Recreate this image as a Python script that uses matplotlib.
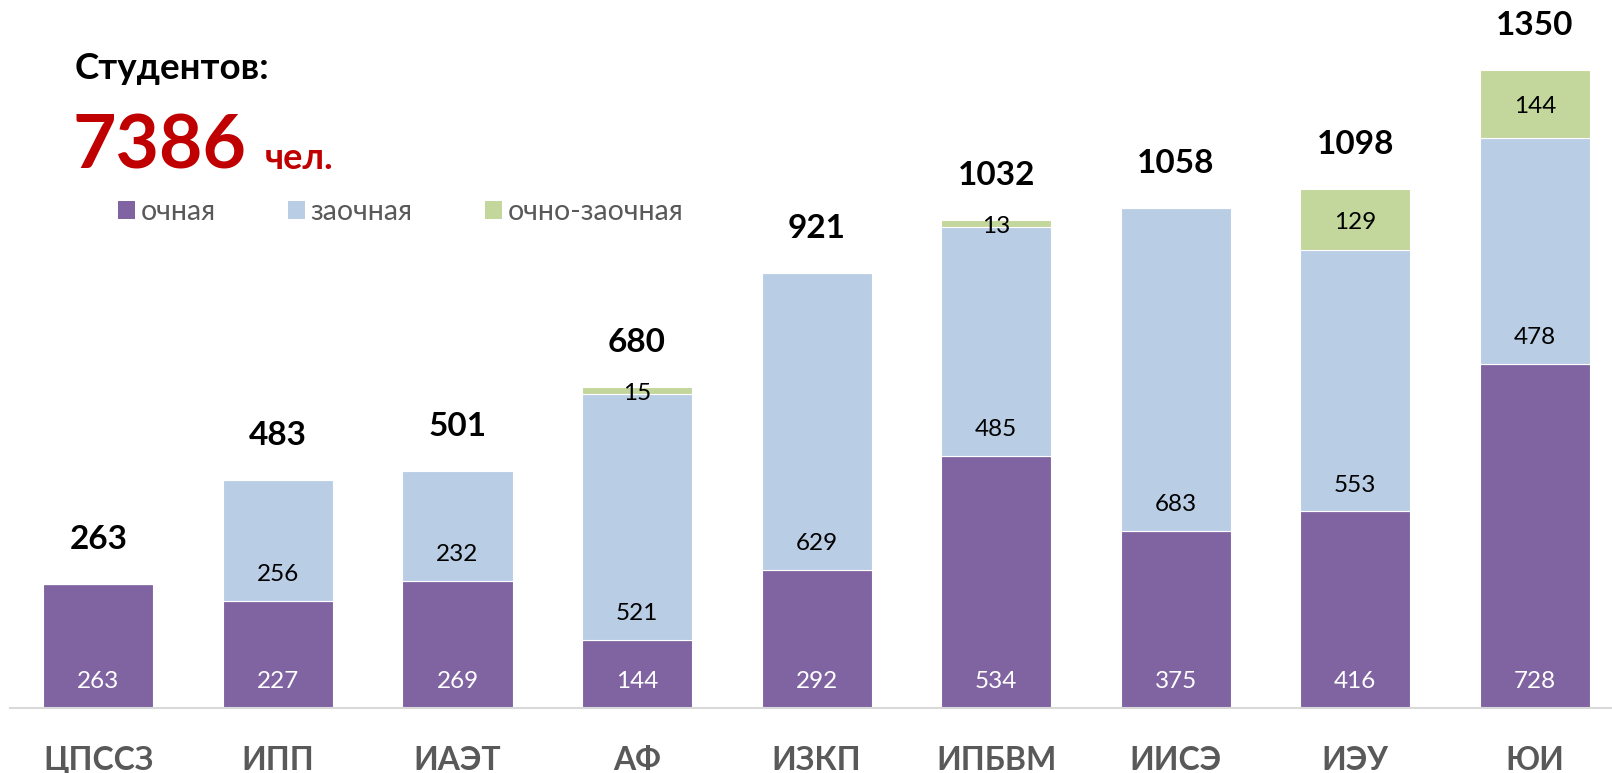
import numpy as np
import matplotlib.pyplot as plt
from matplotlib.patches import Patch

plt.rcParams['font.family'] = ['Lato', 'DejaVu Sans']

# Данные
categories = ['ЦПССЗ', 'ИПП', 'ИАЭТ', 'АФ', 'ИЗКП', 'ИПБВМ', 'ИИСЭ', 'ИЭУ', 'ЮИ']
ochnaya = np.array([263, 227, 269, 144, 292, 534, 375, 416, 728])
zaochnaya = np.array([0, 256, 232, 521, 629, 485, 683, 553, 478])
ochno_zaochnaya = np.array([0, 0, 0, 15, 0, 13, 0, 129, 144])
series_names = ['очная', 'заочная', 'очно-заочная']
total_students = 7386

colors = ['#8064A2', '#B9CDE5', '#C3D69B']

fig = plt.figure(figsize=(16.12, 7.73), dpi=100)
ax = fig.add_axes([0.006, 0.084, 0.994, 0.917])

x = np.arange(len(categories))
w = 0.613
bottoms = np.zeros(len(categories))
for i, vals in enumerate([ochnaya, zaochnaya, ochno_zaochnaya]):
    ax.bar(x, vals, w, bottom=bottoms, color=colors[i], edgecolor='white', linewidth=0.8)
    for xi, v, b in zip(x, vals, bottoms):
        if v == 0:
            continue
        if i == 2:
            # подписи очно-заочной формы — по центру сегмента
            ax.annotate(str(v), (xi, b + v / 2), xytext=(0, -2), textcoords='offset points',
                        ha='center', va='center', fontsize=17.5, color='black')
        else:
            ax.annotate(str(v), (xi, b), xytext=(0, 19), textcoords='offset points',
                        ha='center', va='center', fontsize=17.5,
                        color='white' if i == 0 else 'black')
    bottoms += vals

totals = ochnaya + zaochnaya + ochno_zaochnaya
for xi, t in zip(x, totals):
    ax.annotate(str(t), (xi, t), xytext=(0, 32), textcoords='offset points',
                ha='center', va='center', fontsize=24, fontweight='bold', color='black')

ax.set_xlim(-0.494, 8.43)
ax.set_ylim(0, 1500)
ax.set_xticks(x)
ax.set_xticklabels(categories, fontsize=23, fontweight='bold', color='#595959')
ax.tick_params(axis='x', length=0, pad=27)
ax.set_yticks([])
for s in ['top', 'right', 'left']:
    ax.spines[s].set_visible(False)
ax.spines['bottom'].set_color('#D9D9D9')
ax.spines['bottom'].set_linewidth(1.5)

fig.text(0.046, 0.912, 'Студентов:', fontsize=26.5, fontweight='bold', color='black',
         ha='left', va='center')
fig.text(0.045, 0.782, str(total_students), fontsize=54, fontweight='bold', color='#C00000',
         ha='left', va='baseline')
fig.text(0.164, 0.782, 'чел.', fontsize=26, fontweight='bold', color='#C00000',
         ha='left', va='baseline')

handles = [Patch(facecolor=c, edgecolor='none') for c in colors]
fig.legend(handles, series_names, loc='center left', bbox_to_anchor=(0.0735, 0.726), ncol=3,
           frameon=False, fontsize=20.5, labelcolor='#595959', handlelength=0.58,
           handleheight=0.58, handletextpad=0.2, columnspacing=2.55,
           borderpad=0, borderaxespad=0)

plt.savefig('out.png')
